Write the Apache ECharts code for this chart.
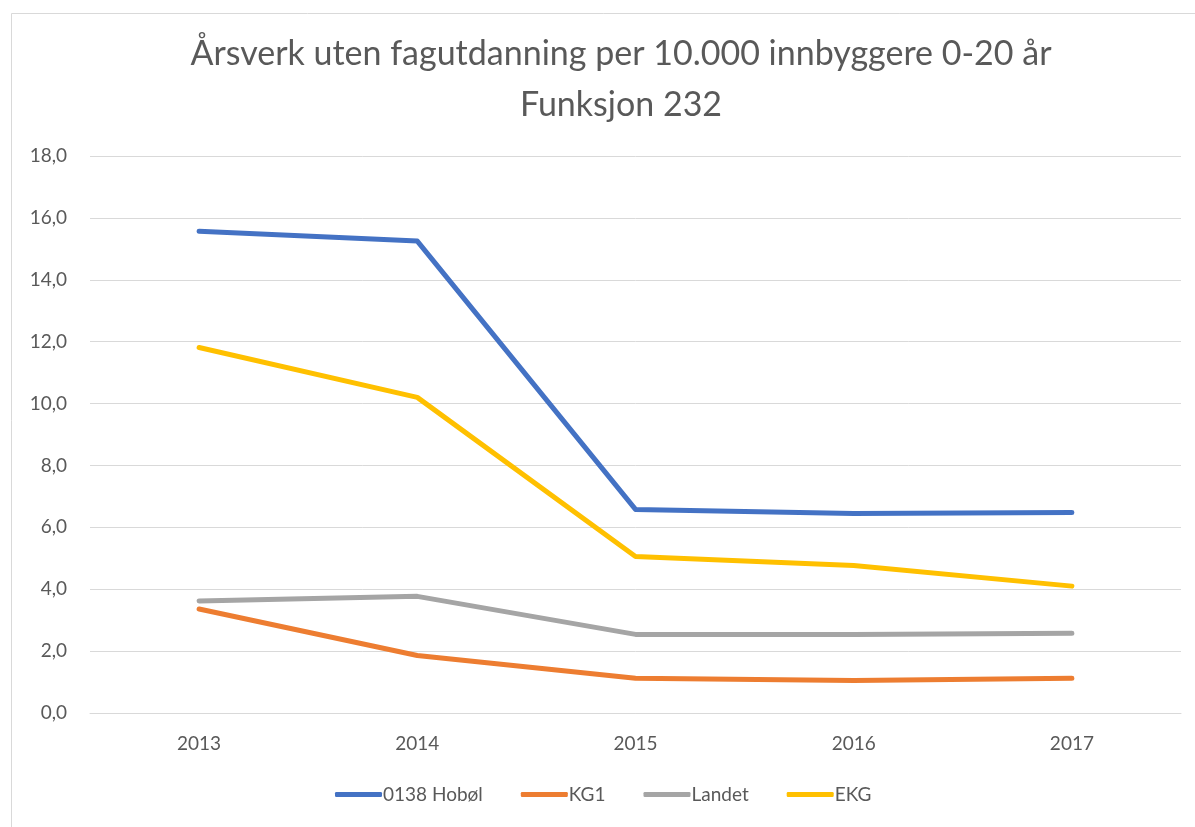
<!DOCTYPE html>
<html>
<head>
<meta charset="utf-8">
<script src="https://cdn.jsdelivr.net/npm/echarts@6/dist/echarts.min.js"></script>
<style>
  html, body { margin: 0; padding: 0; background: #fff; }
  #chart { width: 1195px; height: 827px; }
</style>
</head>
<body>
<div id="chart"></div>
<script>
// Årsverk uten fagutdanning, funksjon 232
const years = ["2013", "2014", "2015", "2016", "2017"];
const hobol = [15.57, 15.25, 6.58, 6.45, 6.48];
const kg1 = [3.36, 1.86, 1.12, 1.05, 1.12];
const landet = [3.62, 3.77, 2.54, 2.54, 2.58];
const ekg = [11.81, 10.2, 5.06, 4.77, 4.1];

const seriesNames = ["0138 Hobøl", "KG1", "Landet", "EKG"];
const seriesColors = ["#4472C4", "#ED7D31", "#A5A5A5", "#FFC000"];
const seriesData = [hobol, kg1, landet, ekg];

const textColor = "#595959";
const fontFamily = "Lato, 'Open Sans', sans-serif";

const chart = echarts.init(document.getElementById("chart"));

const series = seriesNames.map((name, i) => ({
  name: name,
  type: "line",
  data: seriesData[i],
  symbol: "none",
  color: seriesColors[i],
  lineStyle: { width: 5, color: seriesColors[i], cap: "round", join: "round" },
  animation: false
}));

chart.setOption({
  backgroundColor: "#fff",
  animation: false,
  title: {
    text: "Årsverk uten fagutdanning per 10.000 innbyggere 0-20 år\nFunksjon 232",
    left: 616,
    textAlign: "center",
    top: 24,
    textStyle: {
      fontFamily: fontFamily,
      fontSize: 34,
      fontWeight: "normal",
      color: textColor,
      lineHeight: 51
    }
  },
  legend: {
    bottom: 18,
    left: 330,
    itemWidth: 47,
    itemHeight: 5,
    itemGap: 38,
    icon: "roundRect",
    textStyle: { fontFamily: fontFamily, fontSize: 19, color: textColor, padding: [0, 0, 0, -4] },
    data: seriesNames
  },
  grid: {
    left: 90,
    right: 14,
    top: 156,
    bottom: 114,
    containLabel: false
  },
  xAxis: {
    type: "category",
    data: years,
    boundaryGap: true,
    axisLine: { show: true, lineStyle: { color: "#d9d9d9", width: 1 } },
    axisTick: { show: false },
    axisLabel: { color: textColor, fontFamily: fontFamily, fontSize: 19, margin: 21 }
  },
  yAxis: {
    type: "value",
    min: 0,
    max: 18,
    interval: 2,
    axisLine: { show: false },
    axisTick: { show: false },
    axisLabel: {
      color: textColor,
      fontFamily: fontFamily,
      fontSize: 19,
      margin: 23,
      formatter: v => v.toFixed(1).replace(".", ",")
    },
    splitLine: { show: true, lineStyle: { color: "#d9d9d9", width: 1 } }
  },
  graphic: [{
    type: "rect",
    shape: { x: 11.5, y: 13.5, width: 1300, height: 900 },
    style: { fill: "none", stroke: "#d9d9d9", lineWidth: 1 },
    silent: true
  }],
  series: series
});
</script>
</body>
</html>
